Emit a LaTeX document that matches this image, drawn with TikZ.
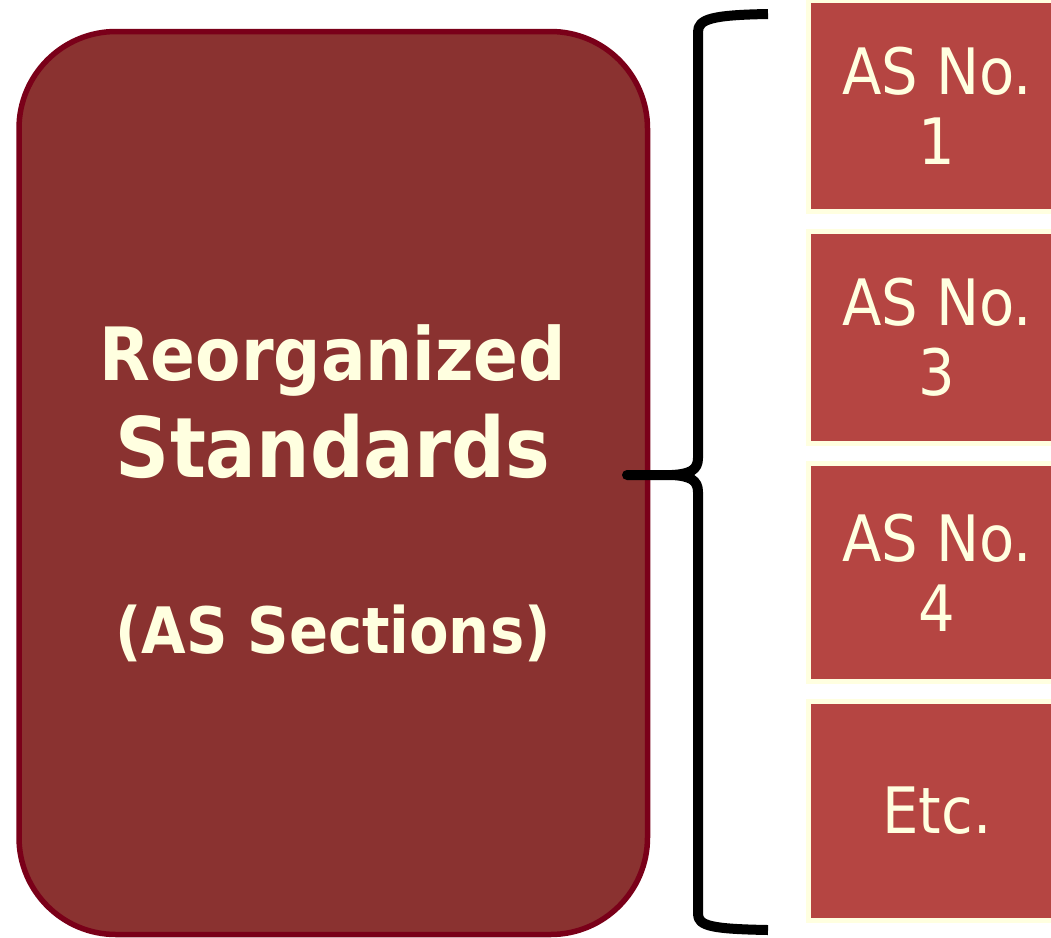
\documentclass[tikz,border=0pt]{standalone}
\usepackage{fontspec}
\newfontfamily\tahoma{DejaVu Sans Condensed}
\definecolor{darkbox}{HTML}{8A3230}
\definecolor{darkline}{HTML}{7A0019}
\definecolor{lightbox}{HTML}{B54542}
\definecolor{cream}{HTML}{FFFFE0}

\begin{document}
\begin{tikzpicture}[x=1pt,y=-1pt,
  big/.style={draw=darkline,line width=5.5pt,fill=darkbox,rounded corners=97pt,inner sep=0pt},
  item/.style={draw=cream,line width=5pt,fill=lightbox,text=cream,align=center,
    font=\tahoma\fontsize{64}{70}\selectfont,inner sep=0pt,minimum width=257.5pt},
  title/.style={text=cream,anchor=base,inner sep=0pt},
  brace/.style={draw=black,line width=10pt,line join=round}]

\useasboundingbox (0,0) rectangle (1051,937);

% left block
\node [big,minimum width=628.5pt,minimum height=903pt] (std) at (333.25,483) {};
\node [title,font=\tahoma\bfseries\fontsize{73.5}{90}\selectfont] (t1) at (333,380) {Reorganized};
\node [title,font=\tahoma\bfseries\fontsize{83.5}{95}\selectfont] (t2) at (333,477) {Standards};
\node [title,font=\tahoma\bfseries\fontsize{64}{80}\selectfont] (t3) at (333,653) {(AS Sections)};

% right column
\node [item,minimum height=211pt]   (as1) at (937,106)    {AS No.\\1};
\node [item,minimum height=212pt]   (as3) at (937,337.5)  {AS No.\\3};
\node [item,minimum height=218.5pt] (as4) at (937,572.25) {AS No.\\4};
\node [item,minimum height=219pt]   (etc) at (937,811)    {Etc.};

% brace
\coordinate (tip) at (627,475);
\draw [brace] (768,14) .. controls (712,15) and (698,19) .. (698,32) -- (698,458)
  .. controls (698,470) and (690,474) .. (672,475) -- (tip)
  -- (672,475) .. controls (690,476) and (698,480) .. (698,492) -- (698,914)
  .. controls (698,926) and (712,929) .. (768,930);

\end{tikzpicture}
\end{document}
